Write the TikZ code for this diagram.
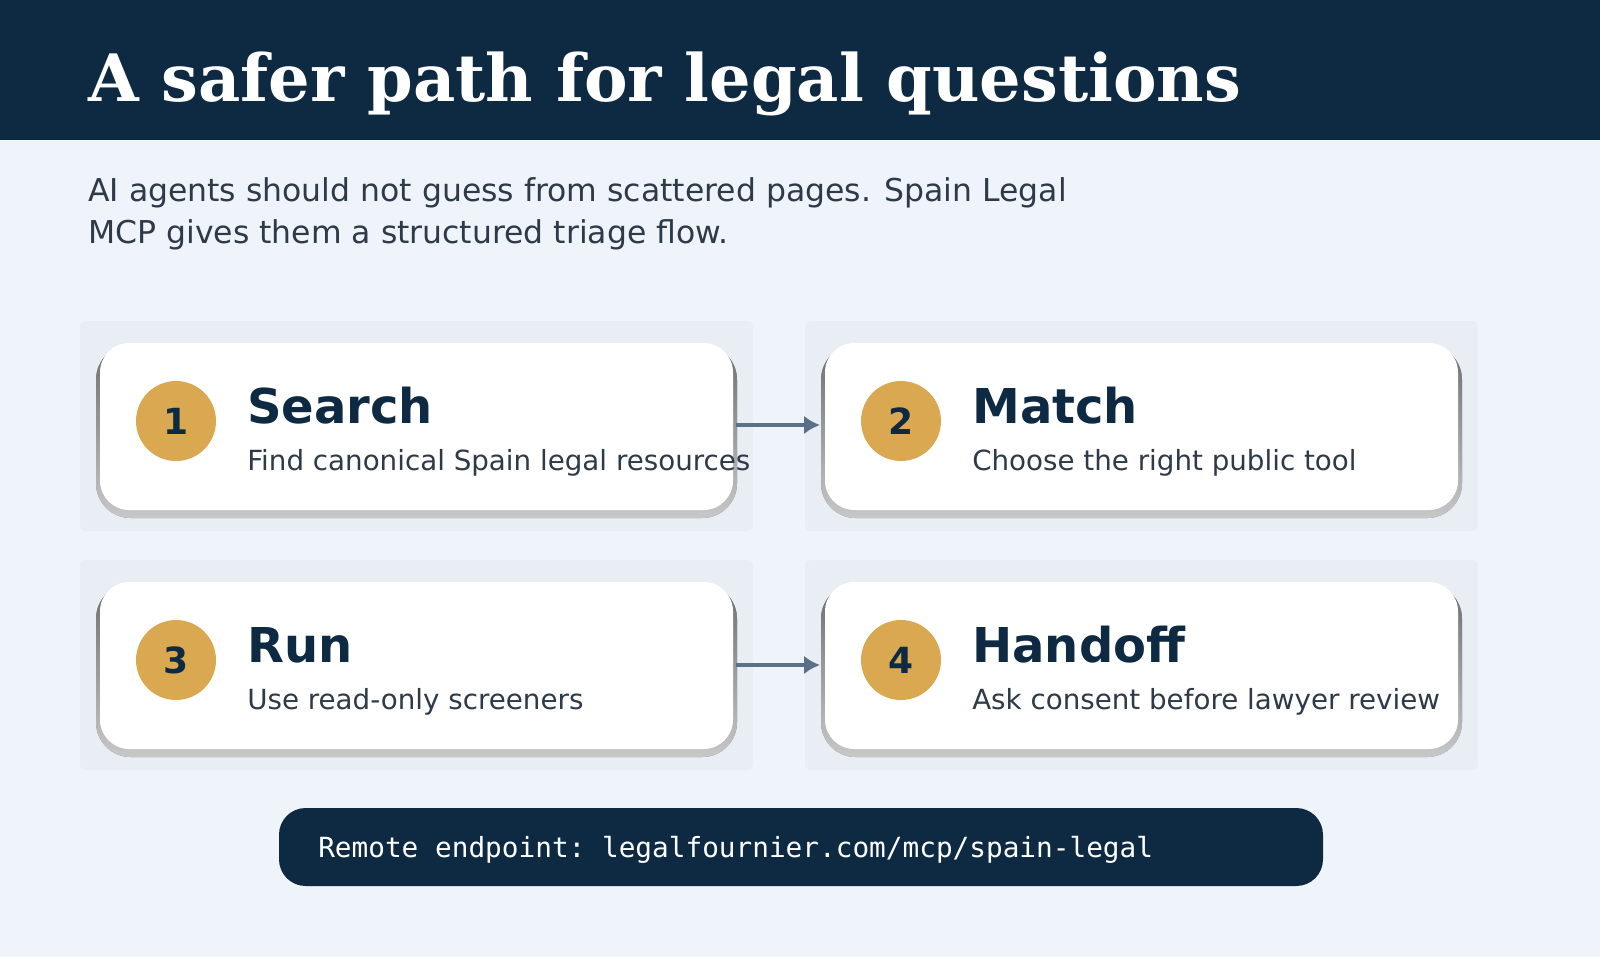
\documentclass[tikz,border=0pt]{standalone}
\usepackage{fontspec}
\setmainfont{DejaVu Sans}
\newfontfamily\titlefont{DejaVu Serif}
\setmonofont{DejaVu Sans Mono}
\usetikzlibrary{positioning,arrows.meta}
\definecolor{navy}{HTML}{0D2A42}
\definecolor{paper}{HTML}{EFF4FA}
\definecolor{gold}{HTML}{D9A851}
\definecolor{slate}{HTML}{5A7088}
\definecolor{bodytxt}{HTML}{2E3A48}
\definecolor{shade}{HTML}{DCE3EA}
\tikzset{
  card/.style={fill=white,rounded corners=22pt},
  cardshade/.style={fill=shade,opacity=0.3,rounded corners=4pt},
  numdot/.style={circle,fill=gold,minimum size=60pt,inner sep=0pt,text=navy,font=\bfseries\fontsize{27}{30}\selectfont},
  steptitle/.style={anchor=base west,inner sep=0pt,text=navy,font=\bfseries\fontsize{36}{40}\selectfont},
  stepnote/.style={anchor=base west,inner sep=0pt,text=bodytxt,font=\fontsize{20.8}{24}\selectfont},
  flow/.style={draw=slate,line width=3.6pt,-{Latex[length=12pt,width=14pt]}}
}
\begin{document}
\begin{tikzpicture}[x=0.75pt,y=-0.75pt]
\useasboundingbox (0,0) rectangle (1600,957);
\fill[paper] (0,0) rectangle (1600,957);
\fill[navy] (0,0) rectangle (1600,140);
\node[anchor=base west,inner sep=0pt,text=white,font=\titlefont\bfseries\fontsize{49}{54}\selectfont] (title) at (88,101) {A safer path for legal questions};
\node[anchor=base west,inner sep=0pt,text=bodytxt,align=left,font=\fontsize{23.6}{31}\selectfont] (lead) at (88,243) {AI agents should not guess from scattered pages. Spain Legal\\MCP gives them a structured triage flow.};
% cards
\foreach \cx/\cy/\n/\name/\note in {100/343/1/Search/Find canonical Spain legal resources,825/343/2/Match/Choose the right public tool,100/582/3/Run/Use read-only screeners,825/582/4/Handoff/Ask consent before lawyer review}{
  \fill[cardshade] (\cx-20,\cy-22) rectangle (\cx+653,\cy+188);
  \fill[shade,opacity=0.7,rounded corners=26pt] (\cx-4,\cy+2) rectangle (\cx+637,\cy+175);
  \fill[card] (\cx,\cy) rectangle (\cx+633,\cy+167);
  \node[numdot] (dot\n) at (\cx+76,\cy+78) {\n};
  \node[steptitle] (head\n) at (\cx+147,\cy+80) {\name};
  \node[stepnote] (note\n) at (\cx+147,\cy+127) {\note};
}
\coordinate (a1) at (736,425); \coordinate (b1) at (820,425);
\coordinate (a2) at (736,665); \coordinate (b2) at (820,665);
\draw[flow] (a1) -- (b1);
\draw[flow] (a2) -- (b2);
% endpoint
\fill[navy,rounded corners=20pt] (279,808) rectangle (1323,886);
\node[anchor=base west,inner sep=0pt,text=white,font=\ttfamily\fontsize{20.8}{24}\selectfont] (endpoint) at (318,857) {Remote endpoint: legalfournier.com/mcp/spain-legal};
\end{tikzpicture}
\end{document}
